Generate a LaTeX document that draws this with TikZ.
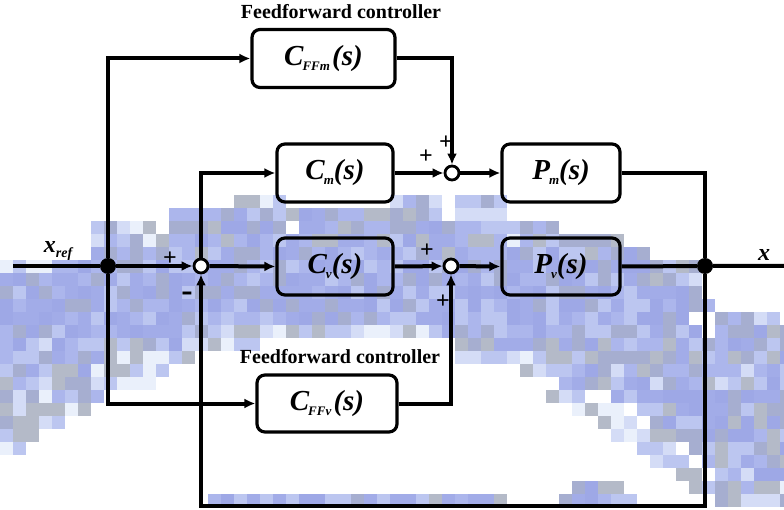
\documentclass[tikz,border=0pt]{standalone}
\usepackage{fontspec}
\setmainfont{Liberation Serif}
\usetikzlibrary{arrows.meta}

% watermark mosaic palette, from strong to faint
\definecolor{wm0}{HTML}{A2ACE8}
\definecolor{wm1}{HTML}{9EA8E6}
\definecolor{wm2}{HTML}{ACB6EC}
\definecolor{wm3}{HTML}{A6AED0}
\definecolor{wm4}{HTML}{BCC6F0}
\definecolor{wm5}{HTML}{B4BAC8}
\definecolor{wm6}{HTML}{D4DCF6}
\definecolor{wm7}{HTML}{EAF0FB}

% transfer-function label: #1 letter, #2 subscript
\newcommand\tfun[2]{{\fontsize{29}{32}\selectfont\bfseries\itshape #1\kern-1pt\raisebox{-5pt}{\fontsize{13}{13}\selectfont #2}(s)}}
\newcommand\sgn[1]{{\fontsize{24}{24}\selectfont\bfseries #1}}

% one row of mosaic cells: row, first column, last column, palette range
\newcommand\wmrow[5]{%
  \foreach \i in {#2,...,#3}{%
    \pgfmathrandominteger{\k}{#4}{#5}%
    \fill[wm\k] (\i*13,#1*13) rectangle ++(13,13);}}

\tikzset{
  wire/.style={line width=4pt},
  arr/.style={wire, -{Latex[length=11pt,width=10pt]}},
  block/.style={draw, line width=3.2pt, rounded corners=8pt, inner sep=0pt},
  sumnode/.style={circle, draw, line width=2.8pt, fill=white, minimum size=14pt, inner sep=0pt},
  dot/.style={circle, fill=black, minimum size=16pt, inner sep=0pt},
  caption/.style={font=\fontsize{20}{22}\selectfont\bfseries, inner sep=0pt},
}

\begin{document}
\begin{tikzpicture}[x=1pt, y=-1pt]
\useasboundingbox (0,0) rectangle (784,510);
\fill[white] (0,0) rectangle (784,510);

% background mosaic: row/first/last/palette-from/palette-to
\pgfmathsetseed{11}
\foreach \j/\a/\b/\lo/\hi in {
  15/18/21/2/7, 15/30/33/2/7, 15/35/38/3/7,
  16/13/17/2/7, 16/18/33/0/5, 16/35/38/3/7,
  17/7/11/3/7, 17/13/21/0/5, 17/23/33/0/5, 17/34/42/2/7,
  18/7/12/2/7, 18/13/38/0/5, 18/39/47/2/7,
  19/7/49/0/5,
  20/0/3/4/7, 20/4/49/0/4, 20/50/53/2/7,
  21/0/48/0/4, 21/49/53/2/7,
  22/0/53/0/4,
  23/0/54/0/4,
  24/0/52/0/4, 24/55/59/2/6,
  25/0/15/0/4, 25/16/33/4/7, 25/34/53/0/4, 25/55/60/0/5,
  26/0/14/0/6, 26/15/19/4/7, 26/35/54/0/5, 26/55/60/0/5,
  27/0/7/0/4, 27/8/14/4/7, 27/35/42/4/7, 27/43/60/0/5,
  28/0/6/0/5, 28/7/12/4/7, 28/40/42/4/7, 28/43/60/0/6,
  29/0/6/2/6, 29/7/11/4/7, 29/43/60/0/6,
  30/0/7/2/7, 30/42/44/4/7, 30/47/60/0/5,
  31/0/6/3/7, 31/44/47/4/7, 31/49/60/0/5,
  32/0/4/3/7, 32/46/48/4/7, 32/50/60/0/5,
  33/0/2/4/7, 33/47/50/4/7, 33/51/60/0/5,
  34/0/1/4/7, 34/49/51/4/7, 34/53/60/0/5,
  35/50/52/4/7, 35/54/60/0/5,
  36/52/53/4/7, 36/55/60/0/6,
  37/44/47/0/5, 37/53/54/4/7, 37/55/60/2/7,
  38/16/38/0/5, 38/43/48/0/5, 38/55/60/3/7}
  {\wmrow{\j}{\a}{\b}{\lo}{\hi}}

% blocks
\node[block, minimum width=143pt, minimum height=58pt] (cffm) at (323.5,58.5) {\tfun{C}{FFm\,}};
\node[block, minimum width=116pt, minimum height=58pt] (cm)   at (335,173)  {\tfun{C}{m}};
\node[block, minimum width=116pt, minimum height=57pt] (cv)   at (335,266.5) {\tfun{C}{v}};
\node[block, minimum width=118pt, minimum height=58pt] (pm)   at (561,173)  {\tfun{P}{m}};
\node[block, minimum width=118pt, minimum height=57pt] (pv)   at (561,266.5) {\tfun{P}{v}};
\node[block, minimum width=140pt, minimum height=57pt] (cffv) at (327,403.5) {\tfun{C}{FFv\,}};

\node[caption] (capm) at (341,12) {Feedforward controller};
\node[caption] (capv) at (340,357) {Feedforward controller};

% summing junctions and branch points
\node[sumnode] (s0) at (201,266) {};
\node[sumnode] (sm) at (452,173) {};
\node[sumnode] (sv) at (451,266) {};
\node[dot] (d1) at (108,266) {};
\node[dot] (d2) at (705,266) {};

\coordinate (xin)  at (13,266);
\coordinate (xout) at (784,266);
\coordinate (fb)   at (705,506);

% signal lines
\draw[wire] (xin) -- (d1);
\draw[arr] (d1) -- (s0);
\draw[arr] (d1) |- (cffm.west);
\draw[arr] (d1) |- (cffv.west);
\draw[arr] (s0) -- (cv.west);
\draw[arr] (s0.north) |- (cm.west);
\draw[arr] (cm.east) -- (sm);
\draw[arr] (cffm.east) -| (sm);
\draw[arr] (sm) -- (pm.west);
\draw[arr] (cv.east) -- (sv);
\draw[arr] (cffv.east) -| (sv);
\draw[arr] (sv) -- (pv.west);
\draw[wire] (pm.east) -| (d2);
\draw[wire] (pv.east) -- (d2) -- (xout);
\draw[arr] (d2) -- (fb) -| (s0);

% signs and signal names
\node (p0) at (170,259) {\sgn{+}};
\node (n0) at (187,297) {{\fontsize{34}{34}\selectfont\bfseries -}};
\node (pm1) at (426,157) {\sgn{+}};
\node (pm2) at (446,143) {\sgn{+}};
\node (pv1) at (427,251) {\sgn{+}};
\node (pv2) at (443,302) {\sgn{+}};
\node (xr) at (58,251) {{\fontsize{24}{24}\selectfont\bfseries\itshape x\raisebox{-5pt}{\fontsize{14}{14}\selectfont ref}}};
\node (xo) at (764,255) {{\fontsize{24}{24}\selectfont\bfseries\itshape x}};
\end{tikzpicture}
\end{document}
